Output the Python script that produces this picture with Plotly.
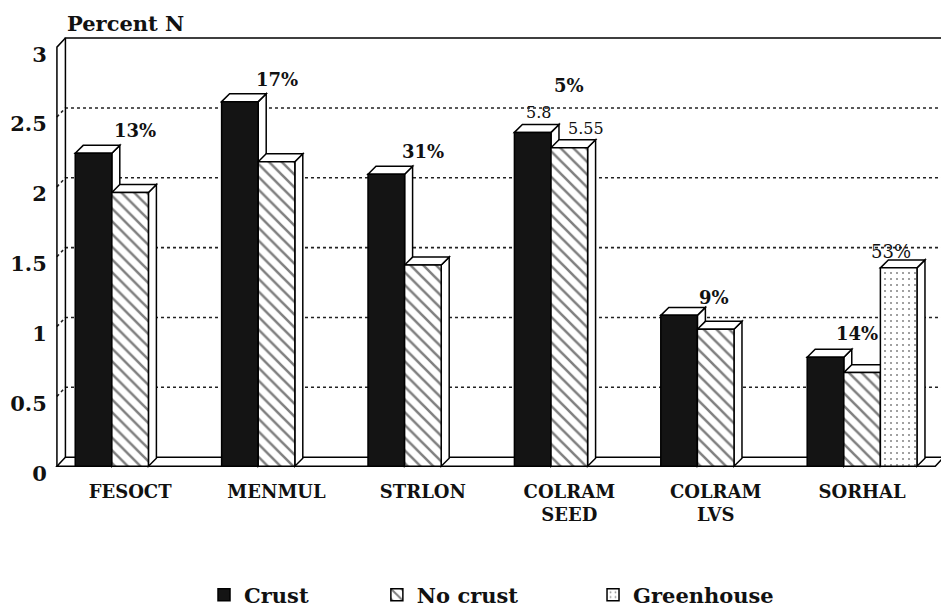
import plotly.graph_objects as go

# ---------------- data ----------------
categories = ["FESOCT", "MENMUL", "STRLON", "COLRAM<br>SEED", "COLRAM<br>LVS", "SORHAL"]
crust = [2.24, 2.61, 2.09, 2.39, 1.08, 0.78]
no_crust = [1.96, 2.18, 1.44, 2.28, 0.98, 0.67]
greenhouse = [None, None, None, None, None, 1.42]
pct_labels = ["13%", "17%", "31%", "5%", "9%", "14%"]
greenhouse_label = "53%"
seed_value_labels = ["5.8", "5.55"]
y_tickvals = [0, 0.5, 1, 1.5, 2, 2.5, 3]
y_ticktext = ["0", "0.5", "1", "1.5", "2", "2.5", "3"]

# ---------------- style ----------------
FONT = "DejaVu Serif"
BAR_W = 0.25
DX, DY = 0.0545, 0.057      # bar depth (data units)
WX, WY = 0.058, 0.065       # wall depth (data units)
X0, X1 = -0.5, 5.5
YTOP = 3.0
LINE = dict(color="black", width=1.5)

x_idx = list(range(len(categories)))

fig = go.Figure()
fig.add_trace(go.Bar(
    name="Crust", x=x_idx, y=crust, marker=dict(color="#141414", line=LINE),
    legend="legend"))
fig.add_trace(go.Bar(
    name="No crust", x=x_idx, y=no_crust,
    marker=dict(color="white", line=LINE,
                pattern=dict(shape="\\", fgcolor="black", bgcolor="white",
                             size=9, solidity=0.28)),
    legend="legend2"))
fig.add_trace(go.Bar(
    name="Greenhouse", x=x_idx, y=greenhouse,
    marker=dict(color="white", line=LINE,
                pattern=dict(shape=".", fgcolor="#111", bgcolor="white",
                             size=6, solidity=0.1)),
    legend="legend3"))

shapes = []
# dotted grid lines on back wall (with short diagonal on left wall)
for v in y_tickvals[1:-1]:
    shapes.append(dict(type="path", layer="below", xref="x", yref="y",
                       path=f"M {X0},{v} L {X0+WX},{v+WY} L {X1+WX},{v+WY}",
                       line=dict(color="#222", width=1.6, dash="dot")))
# back wall
shapes.append(dict(type="path", layer="below", xref="x", yref="y",
                   path=f"M {X0+WX},{WY} L {X0+WX},{YTOP+WY} L {X1+WX},{YTOP+WY} L {X1+WX},{WY}",
                   line=LINE))
# left wall
shapes.append(dict(type="path", layer="below", xref="x", yref="y",
                   path=f"M {X0},{0} L {X0},{YTOP} L {X0+WX},{YTOP+WY}",
                   line=LINE))
# floor
shapes.append(dict(type="path", layer="below", xref="x", yref="y",
                   path=f"M {X0},0 L {X1},0 L {X1+WX},{WY} L {X0+WX},{WY} Z",
                   fillcolor="white", line=LINE))

# 3D caps and sides of bars
series = [(crust, -BAR_W), (no_crust, 0.0), (greenhouse, BAR_W)]
for i in x_idx:
    for vals, off in series:
        v = vals[i]
        if v is None:
            continue
        a = i + off - BAR_W / 2
        b = a + BAR_W
        shapes.append(dict(type="path", layer="below", xref="x", yref="y",
                           path=f"M {b},0 L {b},{v} L {b+DX},{v+DY} L {b+DX},{DY} Z",
                           fillcolor="white", line=LINE))
        shapes.append(dict(type="path", layer="below", xref="x", yref="y",
                           path=f"M {a},{v} L {a+DX},{v+DY} L {b+DX},{v+DY} L {b},{v} Z",
                           fillcolor="white", line=LINE))

# annotations
annotations = []
pct_yshift = [23, 22, 23, 47, 18, 24]
pct_xshift = [5, 0, 0, 0, -2, -5]
for i, (lab, ys, xs) in enumerate(zip(pct_labels, pct_yshift, pct_xshift)):
    annotations.append(dict(x=i, y=crust[i], xref="x", yref="y", text=lab,
                            showarrow=False, yanchor="middle", xanchor="center",
                            yshift=ys, xshift=xs,
                            font=dict(family=FONT, size=18, color="#111", weight="bold")))
annotations.append(dict(x=5 + BAR_W, y=greenhouse[5], xref="x", yref="y",
                        text=greenhouse_label, showarrow=False, yanchor="middle",
                        yshift=16, xshift=-8,
                        font=dict(family=FONT, size=18, color="#111")))
annotations.append(dict(x=3 - BAR_W, y=crust[3], xref="x", yref="y",
                        text=seed_value_labels[0], showarrow=False, yanchor="middle",
                        yshift=20, xshift=6,
                        font=dict(family=FONT, size=16, color="#111")))
annotations.append(dict(x=3, y=no_crust[3], xref="x", yref="y",
                        text=seed_value_labels[1], showarrow=False, yanchor="middle",
                        yshift=19, xshift=17,
                        font=dict(family=FONT, size=16, color="#111")))
annotations.append(dict(x=0.0123, y=1.062, xref="paper", yref="paper",
                        text="Percent N", showarrow=False, xanchor="left",
                        yanchor="top",
                        font=dict(family=FONT, size=21, color="#111", weight="bold")))

legend_common = dict(orientation="h", xref="container", yref="container",
                     y=0.0233, yanchor="middle", xanchor="left",
                     bgcolor="rgba(0,0,0,0)",
                     font=dict(family=FONT, size=21, color="#111", weight="bold"))

# page body has an 8px margin, so the figure is sized to fill the rest
fig.update_layout(
    width=941, height=601,
    margin=dict(l=44, r=2, t=28, b=140),
    paper_bgcolor="white", plot_bgcolor="white",
    barmode="group", bargap=0.25, bargroupgap=0,
    shapes=shapes, annotations=annotations,
    showlegend=True,
    legend=dict(x=0.2083, **legend_common),
    legend2=dict(x=0.392, **legend_common),
    legend3=dict(x=0.6217, **legend_common),
    xaxis=dict(range=[-0.52, 5.58], tickmode="array", tickvals=x_idx,
               ticktext=categories, showgrid=False, zeroline=False,
               showline=False, ticks="outside", ticklen=6,
               tickcolor="rgba(0,0,0,0)",
               tickfont=dict(family=FONT, size=18, color="#111", weight="bold")),
    yaxis=dict(range=[-0.02, 3.08], tickmode="array", tickvals=y_tickvals,
               ticktext=y_ticktext, showgrid=False, zeroline=False,
               showline=False, ticks="outside", ticklen=2,
               tickcolor="rgba(0,0,0,0)", ticklabelshift=7,
               tickfont=dict(family=FONT, size=21, color="#111", weight="bold")),
)

fig.write_html("out.html")
